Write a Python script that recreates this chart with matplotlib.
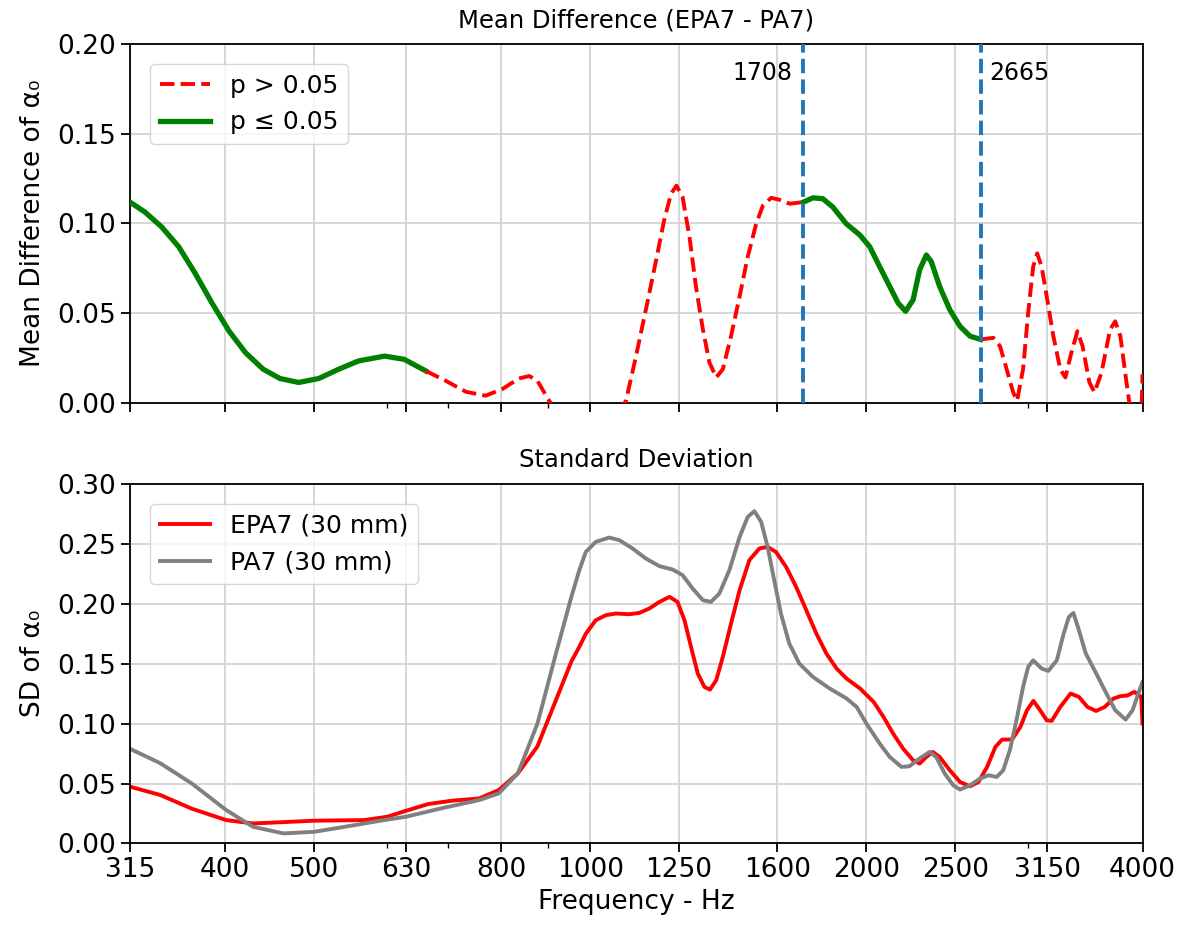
import numpy as np
import matplotlib
matplotlib.use('Agg')
import matplotlib.pyplot as plt
from matplotlib.ticker import NullFormatter

# 频率刻度
tick_freqs = [315, 400, 500, 630, 800, 1000, 1250, 1600, 2000, 2500, 3150, 4000]
tick_labels = [str(f) for f in tick_freqs]

# 均值差 (EPA7 - PA7)
md_freq = [315, 327, 341, 356, 371, 387, 404, 421, 440, 459, 481, 506, 532, 559,
           597, 627, 662, 696, 732, 769, 802, 836, 858, 876, 902, 1000,
           1094, 1122, 1150, 1180, 1204, 1225, 1242, 1261, 1283, 1304, 1327,
           1349, 1372, 1395, 1424, 1455, 1485, 1517, 1543, 1575, 1608, 1650,
           1708, 1749, 1793, 1839, 1901, 1968, 2017, 2068, 2121, 2166, 2207,
           2249, 2286, 2325, 2354, 2404, 2466, 2530, 2595, 2665, 2751, 2797,
           2844, 2891, 2920, 2964, 3002, 3040, 3071, 3105, 3145, 3198, 3254,
           3296, 3339, 3397, 3441, 3501, 3546, 3609, 3687, 3735, 3784, 3834,
           3867, 3935, 3993, 4000]
md_val = [0.1118, 0.1063, 0.098, 0.0869, 0.0721, 0.0555, 0.0398, 0.0278, 0.0186,
          0.0134, 0.0112, 0.0134, 0.0186, 0.0232, 0.0259, 0.0241, 0.0176, 0.0121,
          0.006, 0.0038, 0.0075, 0.0134, 0.0148, 0.0121, 0.001, -0.03,
          0.001, 0.026, 0.0518, 0.0795, 0.1017, 0.1165, 0.121, 0.1146, 0.0924,
          0.0647, 0.0407, 0.0223, 0.014, 0.0186, 0.037, 0.0592, 0.0813, 0.0998,
          0.110, 0.1142, 0.1131, 0.1109, 0.1118, 0.1142, 0.1137, 0.109, 0.0998,
          0.0934, 0.0869, 0.0758, 0.0647, 0.0555, 0.0509, 0.0573, 0.074, 0.0823,
          0.0786, 0.0647, 0.0518, 0.0425, 0.037, 0.0352, 0.0361, 0.0315, 0.0186,
          0.0057, 0.001, 0.0186, 0.050, 0.0758, 0.0832, 0.0758, 0.0592, 0.037,
          0.0186, 0.014, 0.026, 0.0398, 0.0315, 0.0112, 0.0057, 0.0167, 0.0407,
          0.0453, 0.037, 0.0148, 0.001, -0.015, 0.001, 0.0158]
# 显著区间 (p <= 0.05)
sig_ranges = [(315, 662), (1708, 2665)]
markers = [1708, 2665]

# 标准差
epa_freq = [315, 340, 368, 401, 429, 463, 500, 567, 601, 630, 666, 707, 757,
            795, 834, 876, 918, 954, 973, 989, 1014, 1040, 1067, 1103, 1131,
            1160, 1190, 1220, 1245, 1267, 1288, 1310, 1332, 1351, 1372, 1395,
            1424, 1455, 1491, 1529, 1561, 1594, 1635, 1677, 1720, 1764, 1809,
            1856, 1903, 1969, 2037, 2088, 2139, 2193, 2249, 2286, 2325, 2363,
            2404, 2466, 2530, 2595, 2650, 2708, 2765, 2812, 2883, 2944, 2993,
            3042, 3093, 3145, 3185, 3254, 3339, 3410, 3484, 3560, 3638, 3718,
            3784, 3851, 3919, 3987, 4000]
epa_sd = [0.0474, 0.0404, 0.029, 0.0195, 0.0167, 0.0178, 0.019, 0.0195, 0.0223,
          0.0273, 0.0329, 0.0357, 0.0376, 0.0446, 0.0585, 0.081, 0.120, 0.152,
          0.164, 0.175, 0.1863, 0.1905, 0.1919, 0.1913, 0.1924, 0.1961, 0.2016,
          0.2058, 0.2016, 0.1863, 0.164, 0.1418, 0.1306, 0.1284, 0.1362, 0.1557,
          0.1835, 0.2114, 0.2364, 0.2462, 0.2475, 0.2433, 0.2308, 0.2141, 0.1947,
          0.1752, 0.1585, 0.146, 0.1376, 0.1293, 0.1181, 0.1056, 0.0917, 0.0792,
          0.0694, 0.0667, 0.0722, 0.0764, 0.0722, 0.0611, 0.0513, 0.0477, 0.0513,
          0.0639, 0.0806, 0.0867, 0.0867, 0.0972, 0.1112, 0.119, 0.1112, 0.1028,
          0.1023, 0.1139, 0.1251, 0.1223, 0.1139, 0.1106, 0.1139, 0.1209, 0.1229,
          0.1235, 0.1265, 0.1223, 0.1001]

pa_freq = [315, 340, 368, 401, 429, 463, 500, 540, 596, 630, 687, 757, 795, 834,
           876, 918, 954, 973, 989, 1014, 1049, 1076, 1112, 1150, 1190, 1230,
           1261, 1293, 1327, 1354, 1383, 1418, 1455, 1485, 1510, 1536, 1561,
           1587, 1614, 1648, 1690, 1749, 1824, 1903, 1952, 2000, 2068, 2121,
           2184, 2228, 2286, 2344, 2383, 2435, 2487, 2530, 2595, 2661, 2717,
           2774, 2820, 2867, 2915, 2964, 3002, 3040, 3105, 3158, 3226, 3282,
           3325, 3363, 3410, 3469, 3546, 3638, 3735, 3834, 3902, 3970, 4000]
pa_sd = [0.079, 0.0669, 0.050, 0.0279, 0.0139, 0.0084, 0.0097, 0.0139, 0.0195,
         0.0223, 0.0292, 0.0362, 0.0418, 0.0585, 0.100, 0.159, 0.206, 0.228,
         0.2433, 0.2517, 0.2553, 0.2531, 0.2462, 0.2378, 0.2314, 0.2286, 0.2239,
         0.2128, 0.203, 0.2016, 0.2086, 0.228, 0.2558, 0.2725, 0.2773, 0.2684,
         0.2475, 0.2197, 0.1919, 0.1669, 0.1502, 0.139, 0.1293, 0.121, 0.1139,
         0.1001, 0.0834, 0.0722, 0.0639, 0.0644, 0.0709, 0.0764, 0.0722, 0.0583,
         0.0486, 0.045, 0.0486, 0.0542, 0.0569, 0.0555, 0.0611, 0.0778, 0.1028,
         0.1306, 0.1473, 0.1529, 0.146, 0.144, 0.1529, 0.1752, 0.189, 0.1924,
         0.178, 0.1585, 0.1446, 0.1279, 0.1112, 0.1034, 0.1112, 0.1279, 0.1348]

plt.rcParams['font.size'] = 19
plt.rcParams['legend.fontsize'] = 18

fig = plt.figure(figsize=(11.89, 9.32), dpi=100)
ax1 = fig.add_axes([0.1093, 0.5681, 0.8516, 0.3847])
ax2 = fig.add_axes([0.1093, 0.0950, 0.8516, 0.3857], sharex=ax1)

md_freq = np.array(md_freq)
md_val = np.array(md_val)

# 分段绘制: 显著为绿色实线, 不显著为红色虚线
bounds = sorted(set([md_freq[0], md_freq[-1]] + [b for r in sig_ranges for b in r]))
first_sig = True
first_ns = True
for lo, hi in zip(bounds[:-1], bounds[1:]):
    m = (md_freq >= lo) & (md_freq <= hi)
    sig = any(lo >= a and hi <= b for a, b in sig_ranges)
    if sig:
        ax1.plot(md_freq[m], md_val[m], color='green', linewidth=3.8,
                 label='p ≤ 0.05' if first_sig else None, zorder=3)
        first_sig = False
    else:
        ax1.plot(md_freq[m], md_val[m], color='red', linestyle='--', linewidth=2.8,
                 label='p > 0.05' if first_ns else None, zorder=3)
        first_ns = False

for f in markers:
    ax1.axvline(f, color='#1f77b4', linestyle='--', linewidth=2.8, zorder=4)
ax1.annotate(str(markers[0]), xy=(markers[0], 0.184), xytext=(-8, 0),
             textcoords='offset points', ha='right', va='center', fontsize=17)
ax1.annotate(str(markers[1]), xy=(markers[1], 0.184), xytext=(6, 0),
             textcoords='offset points', ha='left', va='center', fontsize=17)

handles, labels = ax1.get_legend_handles_labels()
order = [labels.index('p > 0.05'), labels.index('p ≤ 0.05')]
ax1.legend([handles[i] for i in order], [labels[i] for i in order],
           loc='upper left', borderaxespad=0.8)
ax1.set_ylim(0, 0.2)
ax1.set_yticks([0, 0.05, 0.1, 0.15, 0.2])
ax1.set_ylabel('Mean Difference of α₀', labelpad=8)
ax1.set_title('Mean Difference (EPA7 - PA7)', fontsize=17.5, pad=12)
ax1.grid(True, which='major', color='#d3d3d3', linewidth=1.3)

ax2.plot(epa_freq, epa_sd, color='red', linewidth=2.8, label='EPA7 (30 mm)')
ax2.plot(pa_freq, pa_sd, color='gray', linewidth=2.8, label='PA7 (30 mm)')
ax2.legend(loc='upper left', borderaxespad=0.8)
ax2.set_ylim(0, 0.3)
ax2.set_yticks([0, 0.05, 0.1, 0.15, 0.2, 0.25, 0.3])
ax2.set_ylabel('SD of α₀', labelpad=8)
ax2.set_xlabel('Frequency - Hz')
ax2.set_title('Standard Deviation', fontsize=17.5, pad=12)
ax2.grid(True, which='major', color='#d3d3d3', linewidth=1.3)

ax2.set_xscale('log')
ax2.set_xlim(315, 4000)
ax2.set_xticks(tick_freqs)
ax2.set_xticklabels(tick_labels)
ax2.xaxis.set_minor_formatter(NullFormatter())
plt.setp(ax1.get_xticklabels(), visible=False)
for ax in (ax1, ax2):
    ax.tick_params(axis='both', which='major', length=6.5, width=1.3)
    ax.tick_params(axis='x', which='minor', length=3.7, width=1.0)
    for s in ax.spines.values():
        s.set_linewidth(1.3)

fig.savefig('out.png', dpi=100)
